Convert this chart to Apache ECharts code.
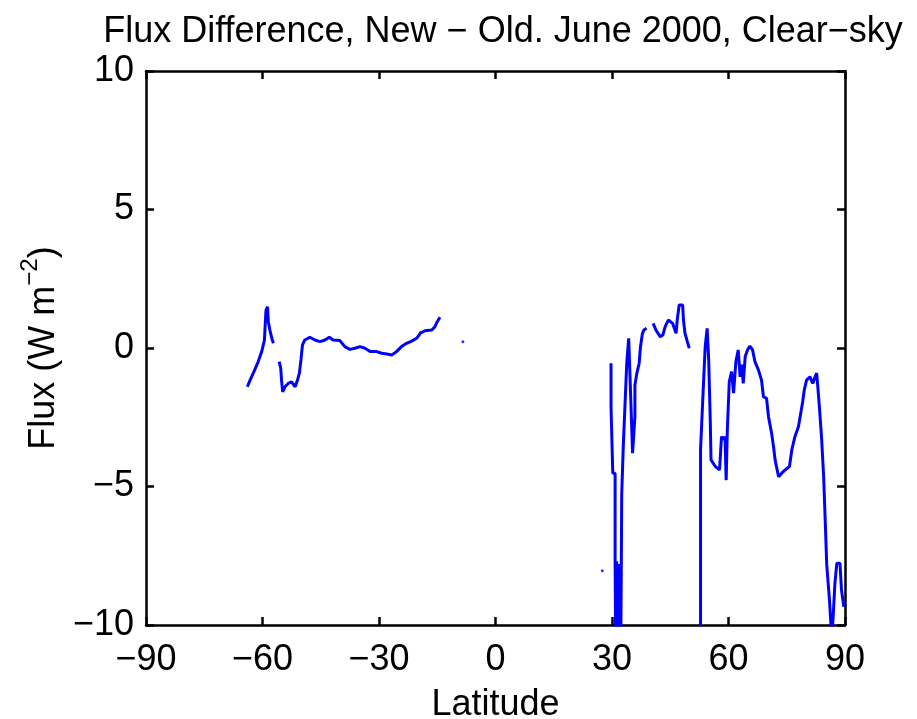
<!DOCTYPE html>
<html>
<head>
<meta charset="utf-8">
<script src="https://cdn.jsdelivr.net/npm/echarts@6/dist/echarts.min.js"></script>
<style>
  html, body { margin: 0; padding: 0; background: #ffffff; }
  #chart { width: 917px; height: 719px; }
</style>
</head>
<body>
<div id="chart"></div>
<script>
// Zonal-mean clear-sky flux difference (new minus old), June 2000.
// null entries separate the contiguous latitude runs of the curve.
const latitude = [
  -63.9, -63.2, -62.2, -61.1, -60.2, -59.5, -59.35, -59.1, -58.7, -58.5, -58.1, -57.6, -57.2,
  null,
  -55.7, -55.3, -55.1, -54.8, -54.2, -53.4, -52.5, -51.6, -51.0, -50.5, -50.1, -49.7, -49.1,
  -47.8, -46.5, -45.2, -43.9, -42.8, -41.8, -40.1, -38.8, -37.5, -36.2, -34.9, -33.6, -32.3,
  -30.6, -29.3, -28.0, -26.7, -25.5, -24.2, -22.9, -21.6, -20.3, -19.3, -18.2, -16.4, -15.6,
  -15.0, -14.3,
  null,
  29.75, 29.75, 30.2, 30.2, 30.8, 30.8, 31.0, 31.0, 31.2, 31.2, 31.4, 31.4, 31.6, 31.6, 31.8,
  31.8, 32.0, 32.0, 32.2, 32.2, 32.4, 32.4, 32.5, 32.5, 32.9, 32.9, 33.4, 33.4, 33.8, 33.8,
  34.3, 34.3, 34.6, 34.9, 35.3, 35.3, 35.7, 35.9, 35.9, 36.4, 36.4, 36.9, 37.0, 37.3, 37.8,
  38.2, 38.9,
  null,
  40.6, 41.3, 42.4, 43.1, 43.7, 44.5, 45.6, 46.5, 46.8, 47.3, 48.2, 48.4, 48.8, 49.4, 49.9,
  null,
  52.8, 52.8, 53.2, 53.2, 53.6, 53.6, 54.0, 54.5, 54.9, 55.3, 55.5, 56.6, 57.7, 58.2, 58.7,
  59.1, 59.4, 59.7, 60.2, 60.8, 61.3, 61.9, 62.5, 63.0, 63.4, 63.8, 64.3, 64.9, 65.5, 66.2,
  66.8, 67.7, 68.5, 69.0, 69.8, 70.3, 71.1, 71.6, 72.0, 72.9, 73.7, 74.6, 75.7, 76.3, 77.1,
  78.0, 78.6, 79.1, 79.5, 80.1, 81.0, 81.7, 82.3, 82.7, 83.0, 83.4, 84.0, 84.5, 84.9, 85.3,
  86.0, 86.6, 87.0, 87.4, 87.9, 88.7, 89.1, 89.7
];

const flux = [
  -1.40, -1.16, -0.85, -0.49, -0.13, 0.29, 0.71, 1.37, 1.49, 0.95, 0.65, 0.35, 0.17,
  null,
  -0.49, -0.73, -1.16, -1.58, -1.40, -1.28, -1.22, -1.40, -1.16, -0.91, -0.43, 0.11, 0.29,
  0.39, 0.29, 0.23, 0.29, 0.39, 0.29, 0.27, 0.05, -0.05, -0.01, 0.05, -0.01, -0.13,
  -0.13, -0.19, -0.22, -0.25, -0.13, 0.05, 0.17, 0.25, 0.35, 0.55, 0.62, 0.65, 0.77,
  0.95, 1.11,
  null,
  -0.55, -2.12, -2.12, -4.52, -4.52, -7.65, -7.65, -12.0, -12.0, -7.70, -7.70, -12.0, -12.0, -7.80, -7.80,
  -12.0, -12.0, -7.80, -7.80, -12.0, -12.0, -7.77, -7.77, -5.30, -5.30, -3.56, -3.56, -1.88, -1.88, -0.55,
  -0.55, 0.35, 0.35, -2.12, -2.12, -3.80, -3.80, -2.48, -1.34, -1.34, -0.91, -0.91, -0.55, 0.00, 0.50,
  0.65, 0.71,
  null,
  0.89, 0.65, 0.41, 0.47, 0.77, 1.01, 0.89, 0.53, 1.01, 1.55, 1.55, 1.01, 0.53, 0.23, -0.01,
  null,
  -12.0, -3.68, -3.68, -2.42, -2.42, -1.16, 0.05, 0.71, -0.43, -2.60, -4.04, -4.28, -4.40, -3.20, -3.30,
  -3.20, -4.77, -2.96, -1.22, -0.85, -1.63, -0.49, -0.07, -1.04, -0.60, -1.28, -0.31, -0.07, 0.07, -0.07,
  -0.49, -0.79, -1.16, -1.76, -1.82, -2.48, -3.08, -3.56, -4.04, -4.65, -4.52, -4.40, -4.28, -3.68, -3.20,
  -2.84, -2.36, -1.94, -1.52, -1.16, -1.04, -1.28, -1.04, -0.91, -1.40, -2.12, -3.32, -4.65, -6.21, -7.83,
  -9.10, -10.5, -9.58, -8.50, -7.77, -7.77, -8.74, -9.34
];

// Isolated single-latitude values
const isolatedLatitude = [-8.4, 27.5];
const isolatedFlux = [0.23, -8.04];

const latTicks = { min: -90, max: 90, step: 30 };
const fluxTicks = { min: -10, max: 10, step: 5 };

const BLUE = '#0000ff';
const FONT = '"Liberation Sans", Arial, Helvetica, sans-serif';
const minus = v => String(v).replace('-', '\u2212');

// split the curve into runs at the null separators
const runs = [];
let cur = [];
latitude.forEach((la, i) => {
  if (la === null || flux[i] === null) {
    if (cur.length) runs.push(cur);
    cur = [];
  } else {
    cur.push([la, flux[i]]);
  }
});
if (cur.length) runs.push(cur);

const axisLine = { show: true, onZero: false, lineStyle: { color: '#000', width: 2.5 } };
const axisTick = { show: true, inside: true, length: 8, lineStyle: { color: '#000', width: 2.5 } };
const labelStyle = { color: '#000', fontFamily: FONT, fontSize: 36 };

const series = runs.map(pts => ({
  type: 'line',
  data: pts,
  xAxisIndex: 0,
  yAxisIndex: 0,
  symbol: 'none',
  clip: true,
  lineStyle: { color: BLUE, width: 3 },
  silent: true,
  animation: false
}));
series.push({
  type: 'scatter',
  data: isolatedLatitude.map((la, i) => [la, isolatedFlux[i]]),
  symbolSize: 3,
  itemStyle: { color: BLUE },
  silent: true,
  animation: false
});

const chart = echarts.init(document.getElementById('chart'), null, { renderer: 'canvas' });
chart.setOption({
  backgroundColor: '#ffffff',
  animation: false,
  title: {
    text: 'Flux Difference, New \u2212 Old. June 2000, Clear\u2212sky',
    left: 498,
    textAlign: 'center',
    top: 9,
    textStyle: { color: '#000', fontFamily: FONT, fontSize: 36, fontWeight: 'normal' }
  },
  grid: { left: 146, right: 72, top: 71, bottom: 94, containLabel: false, outerBoundsMode: 'none' },
  xAxis: [
    {
      type: 'value', position: 'bottom',
      min: latTicks.min, max: latTicks.max, interval: latTicks.step,
      name: 'Latitude', nameLocation: 'middle', nameGap: 62,
      nameTextStyle: { color: '#000', fontFamily: FONT, fontSize: 36 },
      axisLine, axisTick,
      axisLabel: Object.assign({ margin: 17, formatter: minus }, labelStyle),
      splitLine: { show: false }
    },
    {
      type: 'value', position: 'top',
      min: latTicks.min, max: latTicks.max, interval: latTicks.step,
      axisLine, axisTick,
      axisLabel: { show: false },
      splitLine: { show: false }
    }
  ],
  yAxis: [
    {
      type: 'value', position: 'left',
      min: fluxTicks.min, max: fluxTicks.max, interval: fluxTicks.step,
      name: '{m|Flux (W m}{s|\u22122}{m|)}',
      nameLocation: 'middle', nameRotate: 90, nameGap: 80,
      nameTextStyle: {
        color: '#000', fontFamily: FONT, fontSize: 36,
        rich: {
          m: { fontFamily: FONT, fontSize: 36, color: '#000', lineHeight: 44, verticalAlign: 'bottom' },
          s: { fontFamily: FONT, fontSize: 24, color: '#000', lineHeight: 44, verticalAlign: 'top' }
        }
      },
      axisLine, axisTick,
      axisLabel: Object.assign({ margin: 12, formatter: minus }, labelStyle),
      splitLine: { show: false }
    },
    {
      type: 'value', position: 'right',
      min: fluxTicks.min, max: fluxTicks.max, interval: fluxTicks.step,
      axisLine, axisTick,
      axisLabel: { show: false },
      splitLine: { show: false }
    }
  ],
  series
});
</script>
</body>
</html>
